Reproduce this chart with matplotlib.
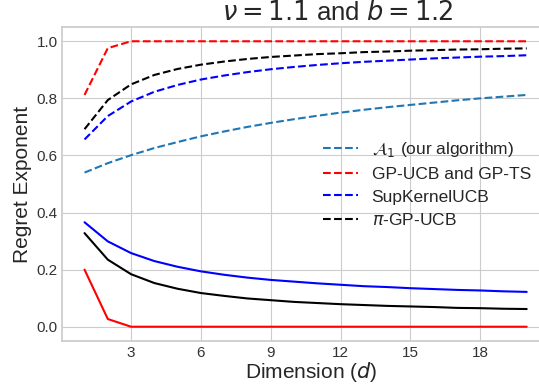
import numpy as np
import matplotlib
matplotlib.use("Agg")
import matplotlib.pyplot as plt

# Regret exponents (nu = 1.1, b = 1.2)
dims = list(range(1, 21))

ours = [0.540, 0.573, 0.601, 0.626, 0.647, 0.667, 0.684, 0.700, 0.714, 0.727,
        0.739, 0.750, 0.760, 0.769, 0.777, 0.785, 0.793, 0.800, 0.806, 0.812]

gpucb_dash = [0.812, 0.976, 1.0, 1.0, 1.0, 1.0, 1.0, 1.0, 1.0, 1.0,
              1.0, 1.0, 1.0, 1.0, 1.0, 1.0, 1.0, 1.0, 1.0, 1.0]
supk_dash = [0.656, 0.738, 0.789, 0.823, 0.847, 0.866, 0.880, 0.892, 0.902, 0.910,
             0.917, 0.923, 0.928, 0.932, 0.936, 0.940, 0.943, 0.946, 0.948, 0.951]
pi_dash = [0.692, 0.794, 0.849, 0.882, 0.903, 0.918, 0.929, 0.938, 0.945, 0.950,
           0.955, 0.958, 0.962, 0.964, 0.967, 0.969, 0.971, 0.972, 0.974, 0.975]

gpucb_solid = [0.200, 0.027, 0.0, 0.0, 0.0, 0.0, 0.0, 0.0, 0.0, 0.0,
               0.0, 0.0, 0.0, 0.0, 0.0, 0.0, 0.0, 0.0, 0.0, 0.0]
supk_solid = [0.366, 0.299, 0.258, 0.230, 0.210, 0.194, 0.182, 0.172, 0.164, 0.158,
              0.152, 0.147, 0.142, 0.139, 0.135, 0.132, 0.129, 0.127, 0.124, 0.122]
pi_solid = [0.328, 0.235, 0.184, 0.153, 0.133, 0.118, 0.108, 0.099, 0.093, 0.087,
            0.083, 0.079, 0.076, 0.073, 0.071, 0.069, 0.066, 0.065, 0.063, 0.062]

plt.style.use("seaborn-v0_8-whitegrid")
plt.rcParams["font.family"] = ["Liberation Sans", "DejaVu Sans"]

fig = plt.figure(figsize=(5.39, 3.89), dpi=100)
ax = fig.add_axes([0.1158, 0.1234, 0.9024, 0.8072])

ax.plot(dims, ours, "--", color="#1f77b4", lw=1.5, label=r"$\mathcal{A}_1$ (our algorithm)")
ax.plot(dims, gpucb_dash, "r--", lw=1.5, label="GP-UCB and GP-TS")
ax.plot(dims, supk_dash, "b--", lw=1.5, label="SupKernelUCB")
ax.plot(dims, pi_dash, "k--", lw=1.5, label=r"$\pi$-GP-UCB")

ax.plot(dims, gpucb_solid, "r-", lw=1.5)
ax.plot(dims, supk_solid, "b-", lw=1.5)
ax.plot(dims, pi_solid, "k-", lw=1.5)

ax.set_xticks([3, 6, 9, 12, 15, 18])
ax.set_yticks([0.0, 0.2, 0.4, 0.6, 0.8, 1.0])
ax.tick_params(labelsize=11, colors="#333333")
for side in ["left", "bottom", "top"]:
    ax.spines[side].set_visible(True)
    ax.spines[side].set_color("#cccccc")
    ax.spines[side].set_linewidth(1.25)

ax.set_xlabel(r"Dimension ($d$)", fontsize=15, color="#262626")
ax.xaxis.set_label_coords(0.511, -0.062)
ax.set_ylabel("Regret Exponent", fontsize=15, color="#262626", labelpad=3)
ax.set_title(r"$\nu = 1.1$ and $b = 1.2$", fontsize=18.5, color="#262626",
             pad=5, x=0.565)

ax.legend(loc="center right", fontsize=12.5, labelspacing=0.45,
          bbox_to_anchor=(0.995, 0.5))

fig.savefig("out.png", dpi=100)
